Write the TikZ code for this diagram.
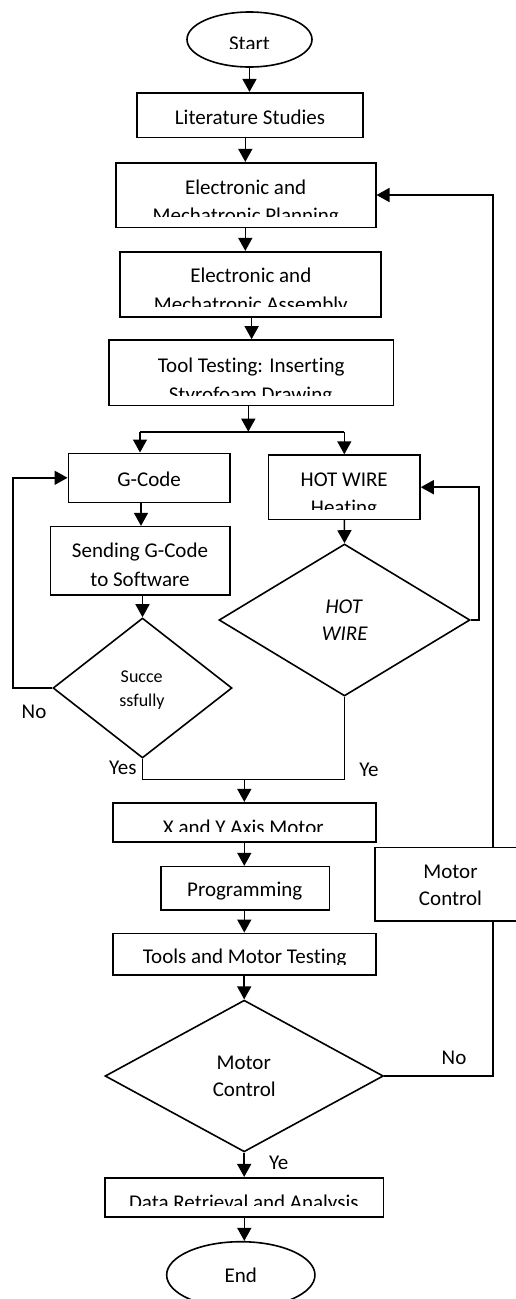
\documentclass[tikz,border=0pt]{standalone}
\usepackage{fontspec}
\setmainfont{Carlito}[Ligatures={NoCommon,NoContextual}]
\usetikzlibrary{arrows.meta,shapes.geometric}
\begin{document}
\begin{tikzpicture}[x=1pt,y=-1pt,
  box/.style={draw, line width=1.6pt, inner sep=0pt, rectangle},
  oval/.style={draw, line width=1.6pt, inner sep=0pt, ellipse},
  choice/.style={draw, line width=1.6pt, inner sep=0pt, diamond},
  txt/.style={font=\fontsize{21}{25}\selectfont, inner sep=0pt, anchor=base},
  small/.style={font=\fontsize{18}{21}\selectfont, inner sep=0pt, anchor=base},
  flow/.style={line width=1.6pt},
  arr/.style={flow, -{Triangle[width=14pt,length=13pt]}},
]
\clip (0,0) rectangle (516,1299);

% ---------- shapes ----------
\node[oval, minimum width=125pt, minimum height=55pt] (start) at (249.5,39.5) {};
\node[box, minimum width=226pt, minimum height=44.6pt] (lit) at (250,115) {};
\node[box, minimum width=260pt, minimum height=64.6pt] (plan) at (245.7,195) {};
\node[box, minimum width=261pt, minimum height=65pt] (assy) at (250.5,284.2) {};
\node[box, minimum width=284.3pt, minimum height=65.7pt] (tool) at (251.2,372.8) {};
\node[box, minimum width=161.7pt, minimum height=49pt] (gcode) at (149.2,477.8) {};
\node[box, minimum width=179.3pt, minimum height=68.3pt] (send) at (140.3,560.8) {};
\node[choice, minimum width=179pt, minimum height=140pt] (succ) at (142.5,688) {};
\node[box, minimum width=151.3pt, minimum height=64.3pt] (hwbox) at (344.3,487.2) {};
\node[choice, minimum width=251pt, minimum height=152pt] (hwd) at (344.5,620) {};
\node[box, minimum width=263pt, minimum height=39pt] (xy) at (244.2,822.2) {};
\node[box, minimum width=168.3pt, minimum height=43.3pt] (prog) at (245.2,888.3) {};
\node[box, minimum width=263pt, minimum height=41.7pt] (tools) at (244.2,954.2) {};
\node[choice, minimum width=278.3pt, minimum height=151.7pt] (mcd) at (244.2,1076) {};
\node[box, minimum width=150pt, minimum height=73.4pt] (mcbox) at (450,884) {};
\node[box, minimum width=278.3pt, minimum height=39pt] (data) at (244.2,1197.2) {};
\node[oval, minimum width=148.3pt, minimum height=66.6pt] (end) at (240.8,1275) {};

% ---------- texts (some are cut off by their box) ----------
\begin{scope}\clip (0,0) rectangle (516,48.5);
  \node[txt] (t-start) at (249.5,50.2) {Start};
\end{scope}
\node[txt] (t-lit) at (250,124) {Literature Studies};
\node[txt] (t-plan1) at (245.6,194) {Electronic and};
\begin{scope}\clip (0,0) rectangle (516,216);
  \node[txt] (t-plan2) at (245.8,222.3) {Mechatronic Planning};
\end{scope}
\node[txt] (t-assy1) at (250.8,282.7) {Electronic and};
\begin{scope}\clip (0,0) rectangle (516,306);
  \node[txt] (t-assy2) at (250.8,311) {Mechatronic Assembly};
\end{scope}
\node[txt] (t-tool1) at (251.2,372.7) {Tool Testing: Inserting};
\begin{scope}\clip (0,0) rectangle (516,395);
  \node[txt] (t-tool2) at (250.5,401) {Styrofoam Drawing};
\end{scope}
\node[txt] (t-gcode) at (149.2,486) {G-Code};
\node[txt] (t-send1) at (140,557.7) {Sending G-Code};
\begin{scope}\clip (0,0) rectangle (516,585.7);
  \node[txt] (t-send2) at (140,586.5) {to Software};
\end{scope}
\node[small] (t-succ1) at (141.7,682.7) {Succe};
\node[small] (t-succ2) at (142,706) {ssfully};
\node[txt] (t-hw1) at (344.2,486.7) {HOT WIRE};
\begin{scope}\clip (0,0) rectangle (516,509.3);
  \node[txt] (t-hw2) at (344,514.7) {Heating};
\end{scope}
\node[txt, font=\fontsize{21}{25}\selectfont\itshape] (t-hwd1) at (343.8,613.3) {HOT};
\node[txt, font=\fontsize{21}{25}\selectfont\itshape] (t-hwd2) at (344.7,640.7) {WIRE};
\begin{scope}\clip (0,0) rectangle (516,831.7);
  \node[txt] (t-xy) at (243.3,834.6) {X and Y Axis Motor};
\end{scope}
\begin{scope}\clip (0,0) rectangle (516,899);
  \node[txt] (t-prog) at (244.7,896.2) {Programming};
\end{scope}
\begin{scope}\clip (0,0) rectangle (516,964.3);
  \node[txt] (t-tools) at (244.7,963.6) {Tools and Motor Testing};
\end{scope}
\node[txt] (t-mcbox1) at (450.5,878.3) {Motor};
\node[txt] (t-mcbox2) at (450.5,905) {Control};
\node[txt] (t-mcd1) at (243.7,1069.3) {Motor};
\node[txt] (t-mcd2) at (244.3,1096) {Control};
\begin{scope}\clip (0,0) rectangle (516,1205);
  \node[txt] (t-data) at (243.8,1209) {Data Retrieval and Analysis};
\end{scope}
\node[txt] (t-end) at (240.8,1282.7) {End};

% ---------- branch labels ----------
\node[txt] (l-no1) at (34,718.3) {No};
\node[txt] (l-yes) at (122.8,774.3) {Yes};
\node[txt] (l-ye1) at (369,776) {Ye};
\node[txt] (l-no2) at (454,1064) {No};
\node[txt] (l-ye2) at (278.8,1169) {Ye};

% ---------- routing points ----------
\coordinate (xa) at (249.5,0);
\coordinate (xb) at (245.3,0);
\coordinate (xc) at (251.6,0);
\coordinate (xm) at (244.3,0);
\coordinate (split) at (248.3,431.7);
\coordinate (splitL) at (140,431.7);
\coordinate (splitR) at (344.3,431.7);
\coordinate (xl) at (141,0);
\coordinate (noL) at (12.7,0);
\coordinate (hwR) at (479,0);
\coordinate (mergeY) at (0,779.3);
\coordinate (fbX) at (492.7,0);

% ---------- connectors ----------
\draw[arr] (start.south -| xa) -- (lit.north -| xa);
\draw[arr] (lit.south -| xb) -- (plan.north -| xb);
\draw[arr] (plan.south -| xb) -- (assy.north -| xb);
\draw[arr] (assy.south -| xc) -- (tool.north -| xc);
\draw[arr] (tool.south -| split) -- (split);
\draw[flow] (splitL) -- (splitR);
\draw[arr] (splitL) -- (splitL |- gcode.north);
\draw[arr] (splitR) -- (splitR |- hwbox.north);
\draw[arr] (gcode.south -| xl) -- (send.north -| xl);
\draw[arr] (send.south -| succ.north) -- (succ.north);
\draw[arr] (succ.west) -- (succ.west -| noL) -- (noL |- gcode.west) -- (gcode.west);
\draw[arr] (hwbox.south) -- (hwd.north);
\draw[arr] (hwd.east) -- (hwd.east -| hwR) -- (hwR |- hwbox.east) -- (hwbox.east);
\draw[flow] (succ.south) -- (succ.south |- mergeY) -- (hwd.south |- mergeY) -- (hwd.south);
\draw[arr] (xm |- mergeY) -- (xy.north -| xm);
\draw[arr] (xy.south -| xm) -- (prog.north -| xm);
\draw[arr] (prog.south -| xm) -- (tools.north -| xm);
\draw[arr] (tools.south -| mcd.north) -- (mcd.north);
\draw[flow] (mcd.east) -- (mcd.east -| fbX) -- (fbX |- mcbox.south);
\draw[arr] (fbX |- mcbox.north) -- (fbX |- plan.east) -- (plan.east);
\draw[arr] (mcd.south) -- (data.north -| mcd.south);
\draw[arr] (data.south -| xm) -- (end.north -| xm);
\end{tikzpicture}
\end{document}
